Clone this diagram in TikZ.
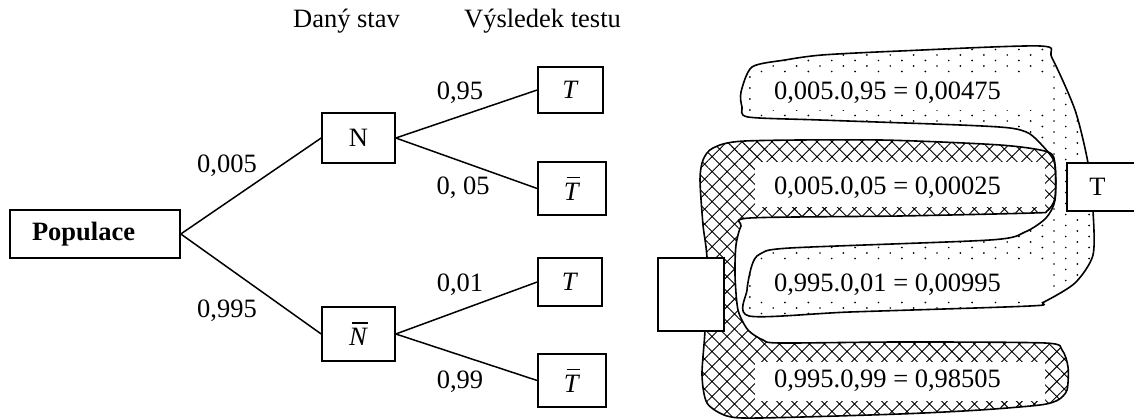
\documentclass[tikz,border=0pt]{standalone}
\usepackage{fontspec}
\setmainfont{Liberation Serif}
\usetikzlibrary{patterns,patterns.meta}
\newcommand\obar[3]{\leavevmode\rlap{\kern#2\rule[0.83em]{#3}{0.045em}}\textit{#1}}
\pgfdeclarepatternformonly{stagdots}{\pgfpoint{-1pt}{-1pt}}{\pgfpoint{24.4pt}{12pt}}{\pgfpoint{23.4pt}{11pt}}{%
  \pgfpathcircle{\pgfpoint{1pt}{1pt}}{0.95pt}%
  \pgfpathcircle{\pgfpoint{12.7pt}{6.5pt}}{0.95pt}%
  \pgfusepath{fill}}
\begin{document}
\begin{tikzpicture}[x=1pt,y=-1pt,font=\fontsize{26.5}{30}\selectfont,
  box/.style={draw, fill=white, inner sep=0pt, line width=1.6pt},
  lab/.style={anchor=base, inner sep=0pt},
  edge/.style={line width=1.5pt},
  blob/.style={line width=1.6pt},
  wbg/.style={fill=white, draw=none, inner sep=0pt, minimum width=290pt},
  dotfill/.style={pattern=stagdots},
  xfill/.style={pattern={Hatch[angle=45, distance=10.6pt, line width=0.9pt]}}]
\useasboundingbox (0,0) rectangle (1134,419);

% headers
\node[lab] (h1) at (346.5,28) {Daný stav};
\node[lab] (h2) at (542.5,28) {Výsledek testu};

% tree nodes
\node[box, minimum width=170pt, minimum height=48pt, text width=126pt, inner xsep=22pt, align=left]
  (pop) at (95,234) {\textbf{Populace}};
\node[box, minimum width=73pt, minimum height=50pt] (N) at (358.5,138) {N};
\node[box, minimum width=73pt, minimum height=54pt] (Nb) at (358.5,334) {\obar{N}{0.12em}{0.6em}};
\node[box, minimum width=65pt, minimum height=46pt] (T1) at (570.5,90) {\textit{T}};
\node[box, minimum width=68pt, minimum height=53pt] (T2) at (572,188.5) {\obar{T}{0.1em}{0.52em}};
\node[box, minimum width=64pt, minimum height=48pt] (T3) at (570,282) {\textit{T}};
\node[box, minimum width=68pt, minimum height=53pt] (T4) at (572,380.5) {\obar{T}{0.1em}{0.52em}};

% edges
\draw[edge] (pop.east) -- (N.west);
\draw[edge] (pop.east) -- (Nb.west);
\draw[edge] (N.east) -- (T1.west);
\draw[edge] (N.east) -- (T2.west);
\draw[edge] (Nb.east) -- (T3.west);
\draw[edge] (Nb.east) -- (T4.west);

% edge labels
\node[lab] (l1) at (227,173) {0,005};
\node[lab] (l2) at (227,317) {0,995};
\node[lab] (l3) at (460,100) {0,95};
\node[lab] (l4) at (463,195) {0, 05};
\node[lab] (l5) at (460,292) {0,01};
\node[lab] (l6) at (460,388) {0,99};

% dotted region (positive test results)
\path[dotfill] plot[smooth cycle, tension=0.45] coordinates {
  (741,92) (752,67) (785,60) (822,55) (900,51) (1040,46) (1052,58) (1075,110)
  (1088,163) (1093,211) (1093,255) (1075,283) (1044,302) (1030,306) (850,312)
  (749,316) (747,290) (752,265) (760,254) (790,248) (990,240) (1025,232)
  (1046,218) (1055,200) (1055,165) (1048,152) (1030,134) (1010,128) (960,125)
  (820,120) (748,117) (742,107)};
% crosshatched region (negative test results)
\path[xfill] plot[smooth cycle, tension=0.45] coordinates {
  (713,148) (745,141) (880,140) (1000,145) (1048,152) (1055,165) (1055,198)
  (1047,211) (1033,213) (900,216) (750,218) (741,226) (736,245) (735,275)
  (738,310) (748,330) (763,340) (780,343) (900,342) (1045,343) (1062,350)
  (1068,367) (1067,390) (1058,400) (1040,405) (980,410) (900,414) (760,418)
  (727,416) (707,403) (702,375) (705,330) (707,260) (703,225) (700,180) (703,160)};

% white panels behind the products
\node[wbg, minimum height=37pt] (r1) at (900,91.5) {};
\node[wbg, minimum height=45pt] (r2) at (900,184.5) {};
\node[wbg, minimum height=38pt] (r3) at (900,282) {};
\node[wbg, minimum height=39pt] (r4) at (900,381) {};

% outlines
\draw[blob] plot[smooth cycle, tension=0.45] coordinates {
  (741,92) (752,67) (785,60) (822,55) (900,51) (1040,46) (1052,58) (1075,110)
  (1088,163) (1093,211) (1093,255) (1075,283) (1044,302) (1030,306) (850,312)
  (749,316) (747,290) (752,265) (760,254) (790,248) (990,240) (1025,232)
  (1046,218) (1055,200) (1055,165) (1048,152) (1030,134) (1010,128) (960,125)
  (820,120) (748,117) (742,107)};
\draw[blob] plot[smooth cycle, tension=0.45] coordinates {
  (713,148) (745,141) (880,140) (1000,145) (1048,152) (1055,165) (1055,198)
  (1047,211) (1033,213) (900,216) (750,218) (741,226) (736,245) (735,275)
  (738,310) (748,330) (763,340) (780,343) (900,342) (1045,343) (1062,350)
  (1068,367) (1067,390) (1058,400) (1040,405) (980,410) (900,414) (760,418)
  (727,416) (707,403) (702,375) (705,330) (707,260) (703,225) (700,180) (703,160)};

% products
\node[lab] (p1) at (887.5,100) {0,005.0,95 = 0,00475};
\node[lab] (p2) at (887.5,195) {0,005.0,05 = 0,00025};
\node[lab] (p3) at (887.5,292) {0,995.0,01 = 0,00995};
\node[lab] (p4) at (887.5,387) {0,995.0,99 = 0,98505};

% result boxes
\node[box, minimum width=66pt, minimum height=73pt] (neg) at (691,294.5) {};
\node[box, minimum width=69pt, minimum height=48pt] (pos) at (1101.5,187) {T\kern8pt};
\end{tikzpicture}
\end{document}
